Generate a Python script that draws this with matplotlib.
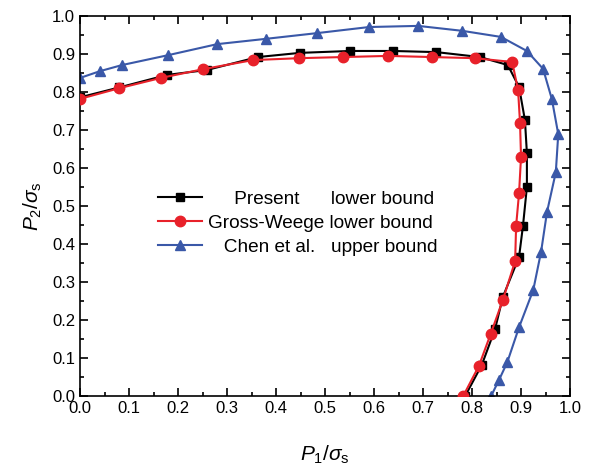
import matplotlib
matplotlib.use("Agg")
import matplotlib.pyplot as plt
from matplotlib.ticker import MultipleLocator

plt.rcParams["font.family"] = ["Liberation Sans", "DejaVu Sans"]
plt.rcParams["mathtext.fontset"] = "custom"
plt.rcParams["mathtext.rm"] = "Liberation Sans"
plt.rcParams["mathtext.it"] = "Liberation Sans:italic"

# Present lower bound
present_x = [0.0, 0.080, 0.178, 0.259, 0.363, 0.449, 0.551, 0.639, 0.727, 0.816,
             0.873, 0.896, 0.908, 0.912, 0.912, 0.904, 0.896, 0.863, 0.847, 0.820, 0.786]
present_y = [0.786, 0.812, 0.845, 0.858, 0.892, 0.903, 0.908, 0.908, 0.905, 0.892,
             0.871, 0.813, 0.726, 0.639, 0.550, 0.448, 0.366, 0.261, 0.176, 0.082, 0.0]

# Gross-Weege lower bound
gw_x = [0.0, 0.080, 0.165, 0.251, 0.353, 0.447, 0.537, 0.629, 0.718, 0.806,
        0.882, 0.894, 0.898, 0.900, 0.896, 0.890, 0.888, 0.863, 0.838, 0.814, 0.782]
gw_y = [0.782, 0.810, 0.837, 0.860, 0.884, 0.889, 0.892, 0.895, 0.892, 0.889,
        0.879, 0.805, 0.718, 0.629, 0.534, 0.448, 0.355, 0.253, 0.163, 0.079, 0.0]

# Chen et al. upper bound
chen_x = [0.0, 0.041, 0.086, 0.180, 0.280, 0.380, 0.484, 0.590, 0.690, 0.780,
          0.859, 0.912, 0.945, 0.963, 0.976, 0.971, 0.953, 0.941, 0.925, 0.896,
          0.872, 0.855, 0.839]
chen_y = [0.837, 0.855, 0.871, 0.897, 0.926, 0.940, 0.955, 0.971, 0.974, 0.961,
          0.945, 0.908, 0.861, 0.781, 0.689, 0.589, 0.484, 0.380, 0.279, 0.181,
          0.089, 0.042, 0.0]

# spaces keep the two legend columns lined up like the original figure
labels = ["     Present      lower bound",
          "Gross-Weege lower bound",
          "   Chen et al.   upper bound"]

fig = plt.figure(figsize=(5.91, 4.68), dpi=100)
ax = fig.add_axes([0.1354, 0.1538, 0.8291, 0.812])

ax.plot(chen_x, chen_y, color="#3a58a8", lw=1.5, marker="^", ms=7, label=labels[2], zorder=2)
ax.plot(present_x, present_y, color="black", lw=1.5, marker="s", ms=6, label=labels[0], zorder=3)
ax.plot(gw_x, gw_y, color="#e8212a", lw=1.5, marker="o", ms=7.5, label=labels[1], zorder=4)

ax.set_xlim(0, 1)
ax.set_ylim(0, 1)
ax.xaxis.set_major_locator(MultipleLocator(0.1))
ax.xaxis.set_minor_locator(MultipleLocator(0.05))
ax.yaxis.set_major_locator(MultipleLocator(0.1))
ax.yaxis.set_minor_locator(MultipleLocator(0.05))
ax.tick_params(which="both", direction="in", top=True, right=True, width=1.2, labelsize=12)
ax.tick_params(which="major", length=6)
ax.tick_params(which="minor", length=3)
ax.xaxis.set_major_formatter(plt.FuncFormatter(lambda v, p: "%.1f" % v))
ax.yaxis.set_major_formatter(plt.FuncFormatter(lambda v, p: "%.1f" % v))
for s in ax.spines.values():
    s.set_linewidth(1.2)

ax.set_xlabel(r"$\mathit{P}_1/\sigma_\mathrm{s}$", fontsize=15, labelpad=20)
ax.set_ylabel(r"$\mathit{P}_2/\sigma_\mathrm{s}$", fontsize=15, labelpad=6)

h, l = ax.get_legend_handles_labels()
order = [1, 2, 0]
ax.legend([h[i] for i in order], [l[i] for i in order], loc="center left",
          bbox_to_anchor=(0.159, 0.455), frameon=False, fontsize=13.7,
          borderpad=0, borderaxespad=0, handlelength=2.3, handletextpad=0.32,
          labelspacing=0.36)

fig.savefig("out.png", dpi=100)
